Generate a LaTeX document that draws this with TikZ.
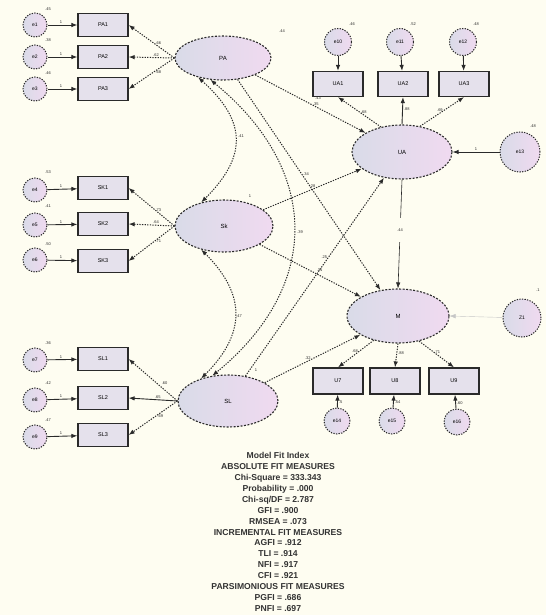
\documentclass[tikz,border=0pt]{standalone}
\usepackage{fontspec}
\setmainfont{Liberation Sans}
\usetikzlibrary{shapes.geometric,arrows.meta}
\definecolor{bg}{HTML}{FEFDF1}
\definecolor{lavL}{HTML}{D9DBE8}
\definecolor{lavR}{HTML}{F0DAF0}
\definecolor{boxf}{HTML}{E5E1EC}
\definecolor{edge}{HTML}{2A2A2A}
\begin{document}
\begin{tikzpicture}[x=1pt,y=-1pt,
  latent/.style={ellipse, draw=edge, dash pattern=on 2pt off 1.5pt, line width=1.1pt, left color=lavL, right color=lavR, inner sep=0pt, font=\fontsize{6}{7}\selectfont},
  err/.style={circle, draw=edge, dash pattern=on 1.3pt off 1.3pt, line width=1pt, left color=lavL, right color=lavR, minimum size=24pt, inner sep=0pt, font=\fontsize{5}{6}\selectfont},
  obs/.style={rectangle, draw=edge, line width=1.2pt, fill=boxf, minimum width=50pt, minimum height=23pt, inner sep=0pt, font=\fontsize{5.5}{6}\selectfont},
  ld/.style={draw=edge, dash pattern=on 1.3pt off 1.3pt, line width=1pt, -{Latex[length=6pt,width=4.5pt]}},
  el/.style={draw=edge, line width=0.9pt, -{Latex[length=6pt,width=4.5pt]}},
  cov/.style={draw=edge, dash pattern=on 1.3pt off 1.3pt, line width=1pt, {Latex[length=6pt,width=4.5pt]}-{Latex[length=6pt,width=4.5pt]}},
  lbl/.style={font=\fontsize{4}{5}\selectfont, inner sep=1pt, text=edge}
]
\fill[bg] (0,0) rectangle (546,615);
\useasboundingbox (0,0) rectangle (546,615);

% ---------- left top group ----------
\node[err] (e1) at (35,25) {e1};
\node[err] (e2) at (35,57) {e2};
\node[err] (e3) at (35,89) {e3};
\node[obs] (pa1) at (103,25) {PA1};
\node[obs] (pa2) at (103,57) {PA2};
\node[obs] (pa3) at (103,89) {PA3};
\node[latent, minimum width=96pt, minimum height=44pt] (PA) at (223,58) {PA};
\node[lbl] at (48,9) {.45};
\node[lbl] at (48,40) {.38};
\node[lbl] at (48,73) {.46};
\node[lbl] at (282,31) {.44};

% ---------- left middle group ----------
\node[err] (e4) at (35,190) {e4};
\node[err] (e5) at (35,225) {e5};
\node[err] (e6) at (35,260) {e6};
\node[obs] (sk1) at (103,188) {SK1};
\node[obs] (sk2) at (103,224) {SK2};
\node[obs] (sk3) at (103,261) {SK3};
\node[latent, minimum width=98pt, minimum height=52pt] (SK) at (224,226) {Sk};
\node[lbl] at (48,172) {.53};
\node[lbl] at (48,206) {.41};
\node[lbl] at (48,244) {.50};
\node[lbl] at (250,196) {1};

% ---------- left bottom group ----------
\node[err] (e7) at (35,360) {e7};
\node[err] (e8) at (35,400) {e8};
\node[err] (e9) at (35,437) {e9};
\node[obs] (sl1) at (103,359) {SL1};
\node[obs] (sl2) at (103,398) {SL2};
\node[obs] (sl3) at (103,435) {SL3};
\node[latent, minimum width=100pt, minimum height=52pt] (SL) at (228,401) {SL};
\node[lbl] at (48,343) {.36};
\node[lbl] at (48,383) {.42};
\node[lbl] at (48,420) {.47};
\node[lbl] at (256,370) {1};

% ---------- right top group ----------
\node[err, minimum size=27pt] (e10) at (338,42) {e10};
\node[err, minimum size=27pt] (e11) at (400,42) {e11};
\node[err, minimum size=27pt] (e12) at (463,42) {e12};
\node[obs, minimum height=25pt] (ua1) at (338,84) {UA1};
\node[obs, minimum height=25pt] (ua2) at (403,84) {UA2};
\node[obs, minimum height=25pt] (ua3) at (464,84) {UA3};
\node[latent, minimum width=100pt, minimum height=54pt] (UA) at (402,152) {UA};
\node[err, minimum size=40pt] (z2) at (520,152) {e13};
\node[lbl] at (352,24) {.46};
\node[lbl] at (413,24) {.52};
\node[lbl] at (476,24) {.48};
\node[lbl] at (318,98) {.43};
\node[lbl] at (533,126) {.48};

% ---------- right bottom group ----------
\node[latent, minimum width=102pt, minimum height=54pt] (M) at (398,316) {M};
\node[err, minimum size=38pt] (z1) at (522,318) {Z1};
\node[obs, minimum height=26pt] (u1) at (338,381) {U7};
\node[obs, minimum height=26pt] (u2) at (395,381) {U8};
\node[obs, minimum height=26pt] (u3) at (454,381) {U9};
\node[err, minimum size=26pt] (e14) at (337,421) {e14};
\node[err, minimum size=26pt] (e15) at (392,421) {e15};
\node[err, minimum size=26pt] (e16) at (457,422) {e16};
\node[lbl] at (538,290) {.1};

% ---------- error -> indicator ----------
\foreach \e/\o in {e1/pa1,e2/pa2,e3/pa3,e4/sk1,e5/sk2,e6/sk3,e7/sl1,e8/sl2,e9/sl3}
  \draw[el] (\e) -- node[lbl, above, pos=0.45] {1} (\o);
\foreach \e/\o in {e10/ua1,e11/ua2,e12/ua3}
  \draw[el] (\e) -- (\o);
\draw[el] (e14) -- node[lbl, right, pos=0.4] {.5} (u1);
\draw[el] (e15) -- node[lbl, right, pos=0.4] {.54} (u2);
\draw[el] (e16) -- node[lbl, right, pos=0.4] {.60} (u3);

% ---------- loadings ----------
\draw[ld] (PA.west) -- node[lbl, above, pos=0.35] {.66} (pa1.east);
\draw[ld] (PA.west) -- node[lbl, above, pos=0.4] {.62} (pa2.east);
\draw[ld] (PA.west) -- node[lbl, below, pos=0.35] {.68} (pa3.east);
\draw[ld] (SK.west) -- node[lbl, above, pos=0.35] {.73} (sk1.east);
\draw[ld] (SK.west) -- node[lbl, above, pos=0.4] {.64} (sk2.east);
\draw[ld] (SK.west) -- node[lbl, below, pos=0.35] {.71} (sk3.east);
\draw[ld] (SL.west) -- node[lbl, above right, pos=0.35] {.60} (sl1.east);
\draw[el] (SL.west) -- node[lbl, above, pos=0.4] {.65} (sl2.east);
\draw[ld] (SL.west) -- node[lbl, below, pos=0.35] {.69} (sl3.east);
\draw[ld] (UA.130) -- node[lbl, right, pos=0.5] {.68} (ua1.south);
\draw[el] (UA.north) -- node[lbl, right, pos=0.55] {.88} (ua2.south);
\draw[ld] (UA.55) -- node[lbl, left, pos=0.55] {.69} (ua3.south);
\draw[ld] (M.225) -- node[lbl, left, pos=0.4] {.68} (u1.north);
\draw[ld] (M.south) -- node[lbl, right, pos=0.4] {.88} (u2.north);
\draw[ld] (M.310) -- node[lbl, right, pos=0.4] {.71} (u3.north);

% ---------- disturbances ----------
\draw[el] (z2) -- node[lbl, above, pos=0.5] {1} (UA.east);
\draw[draw=gray!45, thin, -{Latex[length=6pt,width=4.5pt]}] (z1) -- (M.east);
\draw[draw=edge, semithick, -{Latex[length=6pt,width=4.5pt]}] (UA.south) -- node[lbl, fill=bg, minimum height=24pt, yshift=4pt] {.44} (M.north);

% ---------- structural paths ----------
\draw[ld] (PA) -- node[lbl, above, pos=0.55] {.35} (UA);
\draw[ld] (PA) -- node[lbl, right, pos=0.45] {.34} (M);
\draw[ld] (SK) -- node[lbl, above, pos=0.5] {.28} (UA);
\draw[ld] (SK) -- node[lbl, above right, pos=0.55] {.31} (M);
\draw[ld] (SL) -- node[lbl, left, pos=0.6] {.25} (UA);
\draw[ld] (SL) -- node[lbl, above, pos=0.45] {.32} (M);

% ---------- covariances ----------
\draw[cov] (PA.218) .. controls +(50,45) and +(45,-45) .. (SK.134);
\draw[cov] (SK.226) .. controls +(45,45) and +(45,-45) .. (SL.140);
\draw[cov] (PA.240) .. controls +(110,90) and +(110,-90) .. (SL.122);
\node[lbl] at (241,136) {.41};
\node[lbl] at (239,316) {.47};
\node[lbl] at (300,232) {.39};

% ---------- fit indices ----------
\node[align=center, font=\fontsize{8.6}{10.9}\selectfont\bfseries, text=black!80, anchor=north] (fit) at (278,449) {%
Model Fit Index\\
ABSOLUTE FIT MEASURES\\
Chi-Square = 333.343\\
Probability = .000\\
Chi-sq/DF = 2.787\\
GFI = .900\\
RMSEA = .073\\
INCREMENTAL FIT MEASURES\\
AGFI = .912\\
TLI = .914\\
NFI = .917\\
CFI = .921\\
PARSIMONIOUS FIT MEASURES\\
PGFI = .686\\
PNFI = .697};
\end{tikzpicture}
\end{document}
